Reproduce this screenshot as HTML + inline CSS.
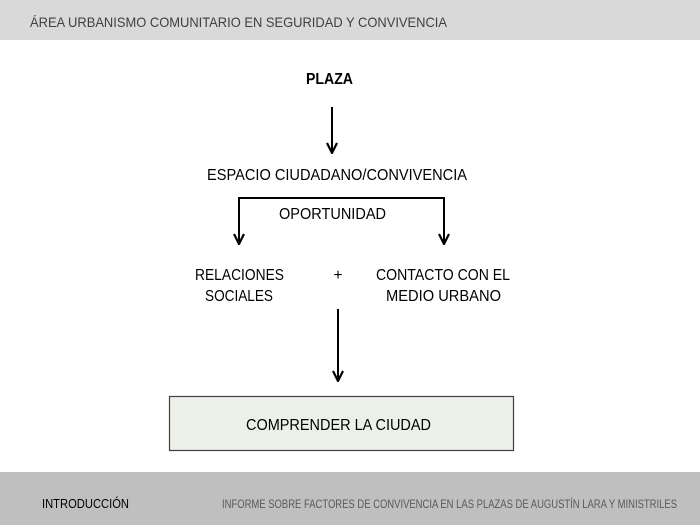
<!DOCTYPE html>
<html><head><meta charset="utf-8"><style>
html,body{margin:0;padding:0;background:#fff;}
svg{display:block;font-family:"Liberation Sans",sans-serif;}
</style></head><body>
<svg width="700" height="525" viewBox="0 0 700 525" xmlns="http://www.w3.org/2000/svg">
<defs><marker id="a" viewBox="0 0 12 12" refX="11" refY="6" markerWidth="12" markerHeight="12" markerUnits="userSpaceOnUse" orient="auto"><path d="M1,1 L11,6 L1,11" fill="none" stroke="#000" stroke-width="2.2"/></marker></defs>
<rect x="0" y="0" width="700" height="40" fill="#d9d9d9"/>
<text x="30" y="27" font-size="14" fill="#404040" textLength="417" lengthAdjust="spacingAndGlyphs">ÁREA URBANISMO COMUNITARIO EN SEGURIDAD Y CONVIVENCIA</text>
<rect x="0" y="472" width="700" height="53" fill="#bfbfbf"/>
<text x="42" y="508" font-size="13" fill="#000" textLength="87" lengthAdjust="spacingAndGlyphs">INTRODUCCIÓN</text>
<text x="222" y="508" font-size="11.5" fill="#595959" textLength="455" lengthAdjust="spacingAndGlyphs">INFORME SOBRE FACTORES DE CONVIVENCIA EN LAS PLAZAS DE AUGUSTÍN LARA Y MINISTRILES</text>
<g font-size="15.5" fill="#000">
<text x="306" y="84" font-weight="bold" textLength="47" lengthAdjust="spacingAndGlyphs">PLAZA</text>
<text x="207" y="180" textLength="260" lengthAdjust="spacingAndGlyphs">ESPACIO CIUDADANO/CONVIVENCIA</text>
<text x="279" y="219" textLength="107" lengthAdjust="spacingAndGlyphs">OPORTUNIDAD</text>
<text x="195" y="280" textLength="89" lengthAdjust="spacingAndGlyphs">RELACIONES</text>
<text x="205" y="301" textLength="68" lengthAdjust="spacingAndGlyphs">SOCIALES</text>
<text x="338" y="280" text-anchor="middle">+</text>
<text x="376" y="280" textLength="134" lengthAdjust="spacingAndGlyphs">CONTACTO CON EL</text>
<text x="386" y="301" textLength="115" lengthAdjust="spacingAndGlyphs">MEDIO URBANO</text>
</g>
<g stroke="#000" stroke-width="2" fill="none">
<line x1="332" y1="107" x2="332" y2="153" marker-end="url(#a)"/>
<path d="M239,243 L239,198 L444,198 L444,243" />
<line x1="239" y1="230" x2="239" y2="244" marker-end="url(#a)"/>
<line x1="444" y1="230" x2="444" y2="244" marker-end="url(#a)"/>
<line x1="338" y1="309" x2="338" y2="381" marker-end="url(#a)"/>
</g>
<rect x="169.5" y="396.5" width="344" height="54" fill="#ebf1e7" stroke="#404040" stroke-width="1.2"/>
<text x="246" y="430" font-size="15.5" fill="#000" textLength="185" lengthAdjust="spacingAndGlyphs">COMPRENDER LA CIUDAD</text>
</svg>
</body></html>
